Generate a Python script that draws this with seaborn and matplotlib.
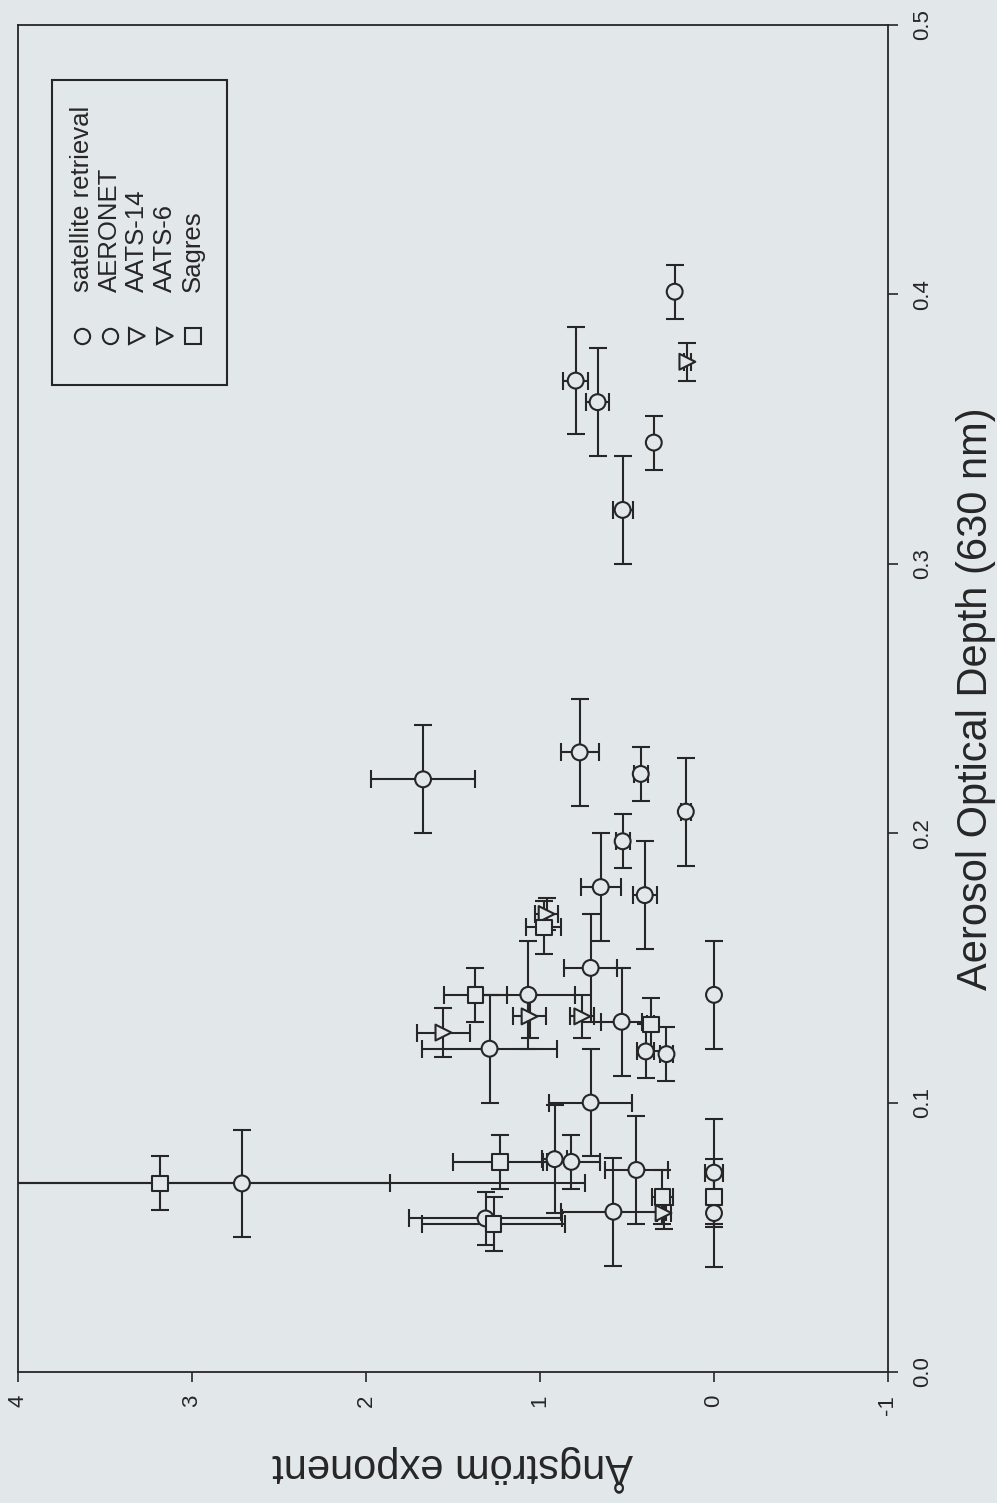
import numpy as np
import pandas as pd
import matplotlib
matplotlib.use("Agg")
import matplotlib.pyplot as plt
from matplotlib.patches import Rectangle
import seaborn as sns

# ---- data: Angstrom exponent vs aerosol optical depth (630 nm) ----
sat_aod = [0.368, 0.360, 0.320, 0.220, 0.230, 0.208, 0.180, 0.177, 0.140, 0.150,
           0.130, 0.120, 0.140, 0.100, 0.075, 0.079, 0.0595, 0.074, 0.059, 0.070]
sat_ang = [0.795, 0.669, 0.525, 1.672, 0.772, 0.162, 0.651, 0.398, 0.000, 0.709,
           0.531, 1.290, 1.067, 0.709, 0.446, 0.916, 0.578, 0.000, 0.000, 2.713]
sat_aod_err = [0.02, 0.02, 0.02, 0.02, 0.02, 0.02, 0.02, 0.02, 0.02, 0.02,
               0.02, 0.02, 0.02, 0.02, 0.02, 0.02, 0.02, 0.02, 0.02, 0.02]
sat_ang_err = [0.072, 0.066, 0.058, 0.300, 0.110, 0.030, 0.115, 0.068, 0.000, 0.153,
               0.120, 0.390, 0.270, 0.240, 0.180, 0.070, 0.300, 0.050, 0.000, 1.970]

aer_aod = [0.401, 0.345, 0.222, 0.197, 0.119, 0.118, 0.078, 0.057]
aer_ang = [0.226, 0.346, 0.421, 0.525, 0.392, 0.273, 0.820, 1.313]
aer_aod_err = [0.01, 0.01, 0.01, 0.01, 0.01, 0.01, 0.01, 0.01]
aer_ang_err = [0.000, 0.000, 0.040, 0.040, 0.050, 0.040, 0.165, 0.440]

a14_aod = [0.375, 0.170, 0.126]
a14_ang = [0.153, 0.962, 1.555]
a14_aod_err = [0.007, 0.006, 0.009]
a14_ang_err = [0.020, 0.066, 0.152]

a6_aod = [0.132, 0.132, 0.059]
a6_ang = [1.060, 0.757, 0.290]
a6_aod_err = [0.008, 0.008, 0.006]
a6_ang_err = [0.093, 0.070, 0.040]

sag_aod = [0.165, 0.140, 0.129, 0.078, 0.065, 0.065, 0.055, 0.070]
sag_ang = [0.979, 1.371, 0.364, 1.232, 0.296, 0.000, 1.267, 3.183]
sag_aod_err = [0.01, 0.01, 0.01, 0.01, 0.01, 0.01, 0.01, 0.01]
sag_ang_err = [0.100, 0.180, 0.020, 0.270, 0.060, 0.000, 0.410, 1.320]

series_names = ["satellite retrieval", "AERONET", "AATS-14", "AATS-6", "Sagres"]
series_markers = ["o", "o", ">", ">", "s"]

x_ticks = [4, 3, 2, 1, 0, -1]
x_tick_labels = ["4", "3", "2", "1", "0", "-1"]
y_ticks = [0.0, 0.1, 0.2, 0.3, 0.4, 0.5]
y_tick_labels = ["0.0", "0.1", "0.2", "0.3", "0.4", "0.5"]

# ---- assemble a long table ----
blocks = [
    (series_names[0], sat_aod, sat_ang, sat_aod_err, sat_ang_err),
    (series_names[1], aer_aod, aer_ang, aer_aod_err, aer_ang_err),
    (series_names[2], a14_aod, a14_ang, a14_aod_err, a14_ang_err),
    (series_names[3], a6_aod, a6_ang, a6_aod_err, a6_ang_err),
    (series_names[4], sag_aod, sag_ang, sag_aod_err, sag_ang_err),
]
frames = []
for name, aod, ang, daod, dang in blocks:
    frames.append(pd.DataFrame({"source": name, "aod": aod, "ang": ang,
                                "aod_err": daod, "ang_err": dang}))
df = pd.concat(frames, ignore_index=True)

# ---- style ----
BG = "#e2e7e9"
INK = "#262626"
sns.set_style("ticks")
plt.rcParams["font.family"] = ["Liberation Sans", "DejaVu Sans"]
plt.rcParams["axes.unicode_minus"] = False

fig = plt.figure(figsize=(9.97, 15.03), dpi=100, facecolor=BG)
ax = fig.add_axes([18 / 997, 131 / 1503, 870 / 997, 1347 / 1503])
ax.set_facecolor(BG)

# error bars (zero-width errors are not drawn)
for name, marker in zip(series_names, series_markers):
    sub = df[df["source"] == name]
    xe = np.where(sub["ang_err"] > 0, sub["ang_err"], np.nan)
    ye = np.where(sub["aod_err"] > 0, sub["aod_err"], np.nan)
    ax.errorbar(sub["ang"], sub["aod"], xerr=xe, yerr=ye, fmt="none",
                ecolor=INK, elinewidth=1.5, capsize=6.5, capthick=1.5, zorder=2)

# open markers on top of the bars
sns.scatterplot(data=df, x="ang", y="aod", style="source",
                markers=dict(zip(series_names, series_markers)),
                style_order=series_names, s=130, color=BG, edgecolor=INK,
                linewidth=1.5, legend=False, zorder=3, ax=ax)

# ---- axes ----
ax.set_xlim(4, -1)
ax.set_ylim(0, 0.5)
ax.set_xticks(x_ticks)
ax.set_xticklabels(x_tick_labels)
ax.set_yticks(y_ticks)
ax.set_yticklabels(y_tick_labels)
ax.yaxis.tick_right()
ax.yaxis.set_label_position("right")
ax.tick_params(axis="x", bottom=True, top=False, direction="out", length=7.5,
               width=1.2, color=INK, labelsize=16, labelcolor=INK,
               labelrotation=90, pad=9)
ax.tick_params(axis="y", left=False, right=True, labelleft=False, labelright=True,
               direction="out", length=7.5, width=1.2, color=INK, labelsize=16,
               labelcolor=INK, labelrotation=90, pad=10)
for t in ax.get_yticklabels():
    t.set_verticalalignment("center")
for sp in ax.spines.values():
    sp.set_visible(True)
    sp.set_color(INK)
    sp.set_linewidth(1.3)

ax.set_xlabel("Ångström exponent", fontsize=30, color=INK, rotation=180, labelpad=22)
ax.set_ylabel("Aerosol Optical Depth (630 nm)", fontsize=30, color=INK, rotation=90,
              labelpad=16)

# ---- legend box (rotated layout, drawn in axes coordinates) ----
ax.add_patch(Rectangle((0.0387, 0.733), 0.2015, 0.226, transform=ax.transAxes,
                       facecolor="none", edgecolor=INK, linewidth=1.5, zorder=4))
legend_cols = [0.0736, 0.1057, 0.1368, 0.1690, 0.2011]
for xc, name, marker in zip(legend_cols, series_names, series_markers):
    ax.plot([xc], [0.769], marker=marker, markersize=11, markerfacecolor=BG,
            markeredgecolor=INK, markeredgewidth=1.5, linestyle="none",
            transform=ax.transAxes, zorder=5)
    ax.text(xc, 0.802, name, rotation=90, ha="center", va="bottom",
            fontsize=18.5, color=INK, transform=ax.transAxes, zorder=5)

fig.savefig("out.png", dpi=100, facecolor=BG)
